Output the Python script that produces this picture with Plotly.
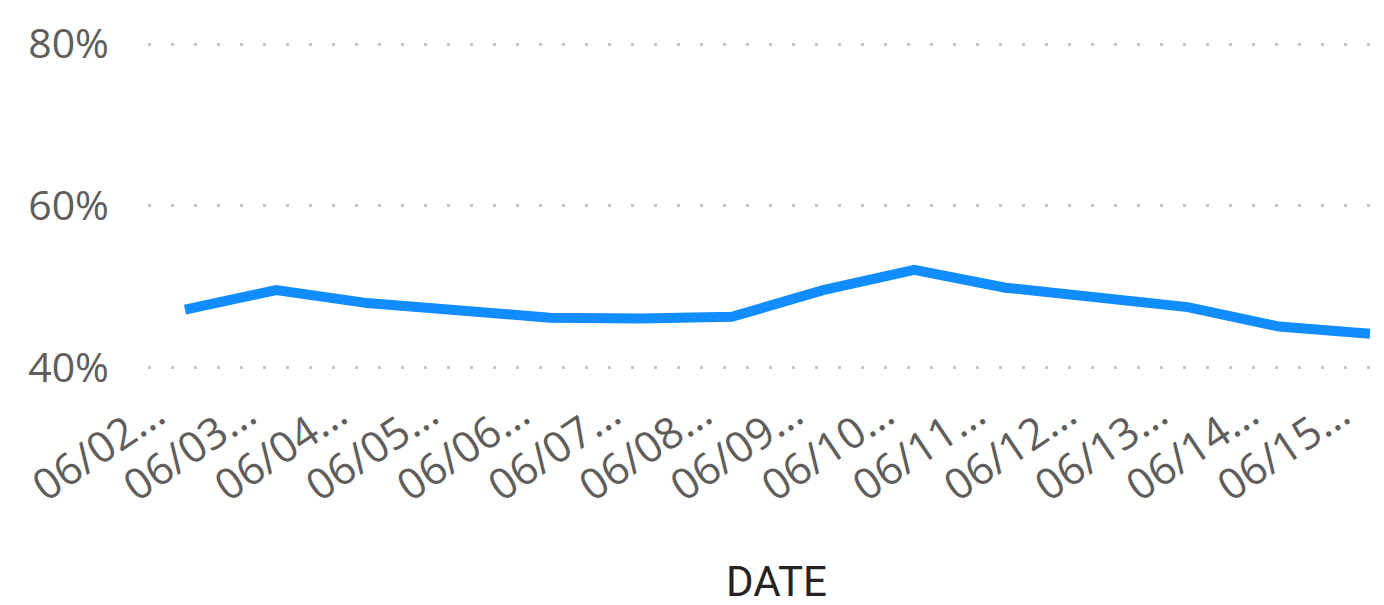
import plotly.graph_objects as go

categories = ["06/02", "06/03", "06/04", "06/05", "06/06", "06/07", "06/08",
              "06/09", "06/10", "06/11", "06/12", "06/13", "06/14", "06/15"]
tick_labels = [c + "…" for c in categories]
values = [0.472, 0.496, 0.480, 0.470, 0.462, 0.461, 0.463,
          0.496, 0.521, 0.499, 0.487, 0.475, 0.451, 0.442]
y_ticks = [0.4, 0.6, 0.8]
x_title = "DATE"

x_idx = list(range(len(categories)))

fig = go.Figure()
fig.add_trace(go.Scatter(
    x=x_idx, y=values, mode="lines",
    line=dict(color="#118DFF", width=10),
    hoverinfo="skip", showlegend=False,
))

fig.update_layout(
    width=1384, height=605,
    margin=dict(l=148, r=9, t=30, b=225),
    paper_bgcolor="white", plot_bgcolor="white",
    font=dict(family="Open Sans", color="#605E5C"),
    xaxis=dict(
        range=[-0.406, 13.055],
        tickmode="array", tickvals=x_idx, ticktext=tick_labels,
        tickangle=-34, tickfont=dict(size=43, color="#605E5C"),
        ticklabeloverflow="allow",
        ticklabelshift=-29, ticklabelstandoff=0,
        showgrid=False, zeroline=False, showline=False, ticks="",
        automargin=False,
    ),
    yaxis=dict(
        range=[0.385, 0.8173],
        tickmode="array", tickvals=y_ticks, tickformat=".0%",
        tickfont=dict(size=41, color="#605E5C"),
        showgrid=True, gridcolor="#C8C6C4", gridwidth=3, griddash="3px,20px",
        zeroline=False, showline=False, ticks="",
        ticklabelstandoff=38,
        automargin=False,
    ),
    annotations=[dict(
        text=x_title, xref="paper", yref="paper", x=0.5126, y=-0.574,
        xanchor="center", yanchor="middle", showarrow=False, height=40,
        font=dict(family="Roboto", size=42, color="#252423"),
    )],
)

fig.write_html("out.html", config={"displayModeBar": False},
               post_script="document.body.style.margin='0';document.body.style.overflow='hidden';")
